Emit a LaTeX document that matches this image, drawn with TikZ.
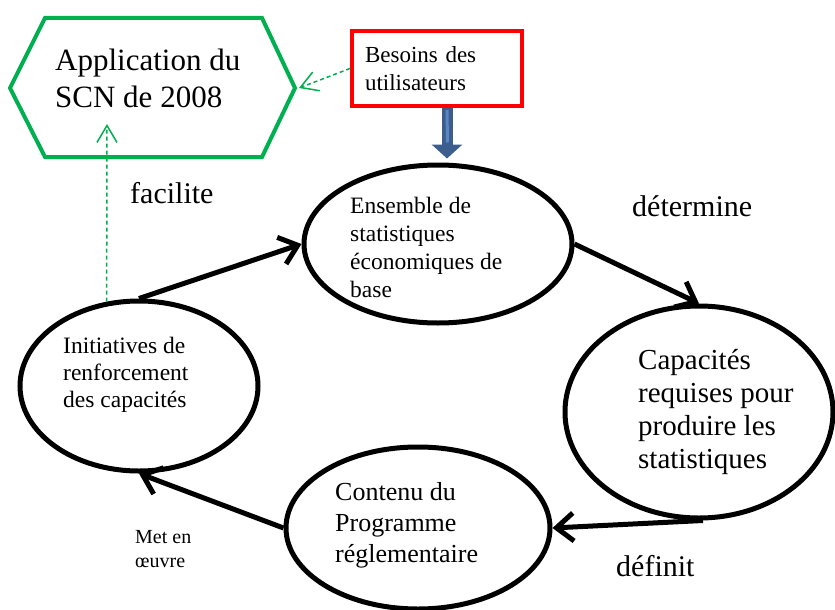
\documentclass[tikz,border=0pt]{standalone}
\usepackage{fontspec}
\setmainfont{Liberation Serif}
\usetikzlibrary{arrows.meta,shapes.geometric}
\definecolor{hexgreen}{HTML}{00B050}
\definecolor{boxred}{HTML}{FF0000}
\definecolor{arrowblue}{HTML}{3B5E8F}
\definecolor{arrowlight}{HTML}{5B86C2}
\begin{document}
\begin{tikzpicture}[x=1pt,y=-1pt,
  oval/.style={ellipse, draw, line width=5pt, inner sep=0pt},
  txt/.style={anchor=base west, inner sep=0pt, align=left},
  flow/.style={line width=5pt, -{Straight Barb[length=17pt,width=28pt]}},
  hint/.style={draw=hexgreen, line width=1.5pt, dash pattern=on 4pt off 3pt,
    -{Straight Barb[length=17pt,width=20pt]}},
  ]
\useasboundingbox (0,0) rectangle (835,610);
\fill[white] (0,0) rectangle (835,610);

% hexagon
\draw[hexgreen, line width=4pt, line join=miter]
  (10,88) -- (45,18) -- (262,18) -- (295,88) -- (262,157) -- (45,157) -- cycle;
\coordinate (hexR) at (299,88);
\coordinate (hexIn) at (107,124);
% multi-line nodes: base anchor = baseline of the last line
\node[txt, font=\fontsize{31}{37}\selectfont] (app) at (55,107) {Application du\\SCN de 2008};

% red box
\node[draw=boxred, line width=4pt, minimum width=170pt, minimum height=75pt,
  text width=144pt, align=left, inner sep=0pt, font=\fontsize{23}{28}\selectfont]
  (bes) at (437,68.5) {Besoins des\\utilisateurs};

% ellipses
\node[oval, minimum width=268pt, minimum height=158pt] (ens) at (438,244) {};
\node[oval, minimum width=268pt, minimum height=212pt] (cap) at (699,412) {};
\node[oval, minimum width=264pt, minimum height=162pt] (con) at (418,528) {};
\node[oval, minimum width=238pt, minimum height=170pt] (ini) at (139,386) {};

% ellipse texts
\node[txt, font=\fontsize{23.5}{28}\selectfont] (tens) at (350,297)
  {Ensemble de\\statistiques\\économiques de\\base};
\node[txt, font=\fontsize{29}{32.7}\selectfont] (tcap) at (638,468)
  {Capacités\\requises pour\\produire les\\statistiques};
\node[txt, font=\fontsize{26}{31}\selectfont] (tcon) at (335,562)
  {Contenu du\\Programme\\réglementaire};
\node[txt, font=\fontsize{23.5}{27}\selectfont] (tini) at (63,407)
  {Initiatives de\\renforcement\\des capacités};

% labels
\node[txt, font=\fontsize{30}{36}\selectfont] (lfac) at (130,203) {facilite};
\node[txt, font=\fontsize{30}{36}\selectfont] (ldet) at (632,216) {détermine};
\node[txt, font=\fontsize{30}{36}\selectfont] (ldef) at (616,576) {définit};
\node[txt, font=\fontsize{20}{24}\selectfont] (lmet) at (135,567) {Met en\\œuvre};

% cycle arrows
\draw[flow] (ini.north) -- (ens.west);
\draw[flow] (ens.east) -- (cap.north);
\draw[flow] ([xshift=4pt]cap.south) -- (con.east);
\draw[flow] (con.west) -- (ini.south);

% green dashed arrows
\draw[hint] (bes.west) -- (hexR);
\draw[hint] (ini.111) -- (hexIn);

% blue block arrow
\draw[arrowblue, line width=11pt, -{Triangle[length=14pt,width=30pt]}]
  ([xshift=10pt]bes.south) -- ([xshift=9pt,yshift=4pt]ens.north);
\draw[arrowlight, line width=3pt] ([xshift=10pt,yshift=-2pt]bes.south) -- ([xshift=9.5pt,yshift=20pt]ens.north);
\end{tikzpicture}
\end{document}
